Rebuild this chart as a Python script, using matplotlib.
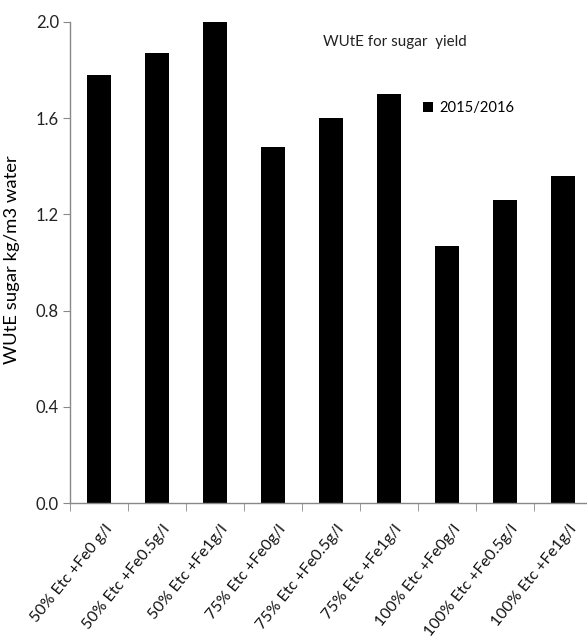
import matplotlib
matplotlib.use("Agg")
import matplotlib.pyplot as plt
import matplotlib.transforms as mtransforms
import numpy as np

categories = ["50% Etc +Fe0 g/l", "50% Etc +Fe0.5g/l", "50% Etc +Fe1g/l",
              "75% Etc +Fe0g/l", "75% Etc +Fe0.5g/l", "75% Etc +Fe1g/l",
              "100% Etc +Fe0g/l", "100% Etc +Fe0.5g/l", "100% Etc +Fe1g/l"]
values = [1.78, 1.87, 2.00, 1.48, 1.60, 1.70, 1.07, 1.26, 1.36]
series_name = "2015/2016"
yticks = [0.0, 0.4, 0.8, 1.2, 1.6, 2.0]

plt.rcParams['font.family'] = ['Lato', 'DejaVu Sans']
narrow = ['Liberation Sans Narrow', 'Lato']

fig = plt.figure(figsize=(5.87, 6.44), dpi=100)
ax = fig.add_axes([70/587, 1-503/644, 522/587, 481/644])

x = np.arange(len(categories))
ax.bar(x, values, width=0.4, color='black', label=series_name, zorder=2)

ax.set_xlim(-0.5, len(categories) - 0.5)
ax.set_ylim(0, 2.0)
ax.set_yticks(yticks)
ax.set_yticklabels([f"{v:.1f}" for v in yticks], fontsize=12, color='#222222')
ax.set_xticks(x)
ax.set_xticklabels(categories, rotation=51, ha='right', va='top',
                   rotation_mode='anchor', fontsize=11.4, color='#111111')
ax.tick_params(axis='x', length=0, pad=14)
offset = mtransforms.ScaledTranslation(5/100, 0, fig.dpi_scale_trans)
for lab in ax.get_xticklabels():
    lab.set_transform(lab.get_transform() + offset)
ax.set_xticks(np.arange(-0.5, len(categories), 1.0), minor=True)
ax.tick_params(axis='x', which='minor', length=6, color='#888888', direction='out')
ax.tick_params(axis='y', length=5, color='#888888', direction='out', pad=3)

for s in ['top', 'right']:
    ax.spines[s].set_visible(False)
for s in ['left', 'bottom']:
    ax.spines[s].set_color('#888888')
    ax.spines[s].set_linewidth(1.0)

ax.set_ylabel("WUtE sugar kg/m3 water", fontsize=13.3, family=narrow)
ax.yaxis.set_label_coords(20/587, 1-260/644, transform=fig.transFigure)

fig.text(323/587, 1-42/644, "WUtE for sugar  yield", fontsize=10.9, family=narrow,
         ha='left', va='center', color='#222222')
ax.legend(loc='upper left', bbox_to_anchor=(423/587, 1-101/644), bbox_transform=fig.transFigure,
          frameon=False, prop={'family': narrow, 'size': 10.6},
          handlelength=0.7, handleheight=0.7, handletextpad=0.4,
          borderpad=0, borderaxespad=0)

fig.savefig("out.png", dpi=100)
